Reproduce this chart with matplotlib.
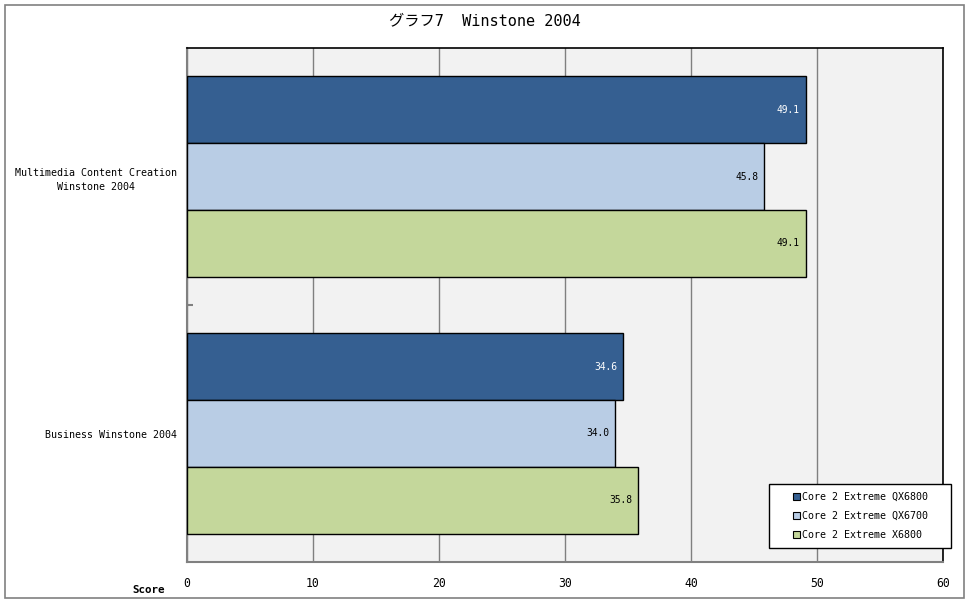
import matplotlib.pyplot as plt
import numpy as np
from matplotlib.patches import Rectangle, Patch

plt.rcParams['font.family'] = ['DejaVu Sans Mono', 'Noto Sans CJK JP']

categories = ['Multimedia Content Creation\nWinstone 2004', 'Business Winstone 2004']
series_names = ['Core 2 Extreme QX6800', 'Core 2 Extreme QX6700', 'Core 2 Extreme X6800']
qx6800 = [49.1, 34.6]
qx6700 = [45.8, 34.0]
x6800 = [49.1, 35.8]
series = [qx6800, qx6700, x6800]
colors = ['#355F91', '#B9CDE5', '#C4D79B']
label_colors = ['white', 'black', 'black']
x_ticks = [0, 10, 20, 30, 40, 50, 60]

fig = plt.figure(figsize=(9.7, 6.04), dpi=100)
fig.patch.set_facecolor('white')

# outer border of the chart
fig.add_artist(Rectangle((5 / 970, 1 - 598 / 604), 959 / 970, 593 / 604,
                         transform=fig.transFigure, fill=False,
                         edgecolor='#808080', linewidth=1.2))

ax = fig.add_axes([187 / 970, (604 - 562) / 604, 756 / 970, 514 / 604])
ax.set_facecolor('#F2F2F2')

bar_h = 0.26
pos = np.arange(len(categories))
for i, (vals, c, lc) in enumerate(zip(series, colors, label_colors)):
    y = pos - 0.39 + bar_h * (i + 0.5)
    ax.barh(y, vals, height=bar_h, color=c, edgecolor='black', linewidth=1.0,
            zorder=3, label=series_names[i])
    for yy, v in zip(y, vals):
        ax.text(v - 0.45, yy, f'{v:.1f}', ha='right', va='center',
                color=lc, fontsize=6.9, zorder=4)

ax.set_xlim(0, 60)
ax.set_ylim(1.5, -0.5)
ax.set_xticks(x_ticks)
ax.set_xticklabels([str(t) for t in x_ticks], fontsize=8.3)
ax.tick_params(axis='x', length=0, pad=11)
ax.set_yticks(pos)
ax.set_yticklabels(categories, fontsize=7.2, linespacing=1.6, multialignment='center')
ax.tick_params(axis='y', length=0, pad=7)
ax.set_yticks([0.5], minor=True)
ax.tick_params(axis='y', which='minor', length=4, direction='in', color='#808080', width=1.5)
ax.grid(axis='x', color='#808080', linewidth=1.0, zorder=0)
ax.set_axisbelow(True)

for side in ['top', 'right']:
    ax.spines[side].set_color('black')
    ax.spines[side].set_linewidth(1.2)
for side in ['left', 'bottom']:
    ax.spines[side].set_color('#808080')
    ax.spines[side].set_linewidth(1.5)

fig.text(0.5, 1 - 21 / 604, 'グラフ7  Winstone 2004', ha='center', va='center', fontsize=11)
fig.text(149 / 970, 1 - 590 / 604, 'Score', ha='center', va='center',
         fontsize=7.8, fontweight='bold')

# legend box drawn separately so it can be wider than its content
fig.add_artist(Rectangle((769 / 970, 1 - 548 / 604), 182 / 970, 64 / 604,
                         transform=fig.transFigure, facecolor='white',
                         edgecolor='black', linewidth=1.0, zorder=5))
handles = [Patch(facecolor=c, edgecolor='black', linewidth=0.8) for c in colors]
leg = fig.legend(handles, series_names, loc='center',
                 bbox_to_anchor=(861 / 970, 1 - 516 / 604),
                 fontsize=7.2, frameon=False, handlelength=0.7,
                 handleheight=0.7, handletextpad=0.2, labelspacing=0.9,
                 borderpad=0, borderaxespad=0)
leg.set_zorder(6)

fig.savefig('out.png', dpi=100)
